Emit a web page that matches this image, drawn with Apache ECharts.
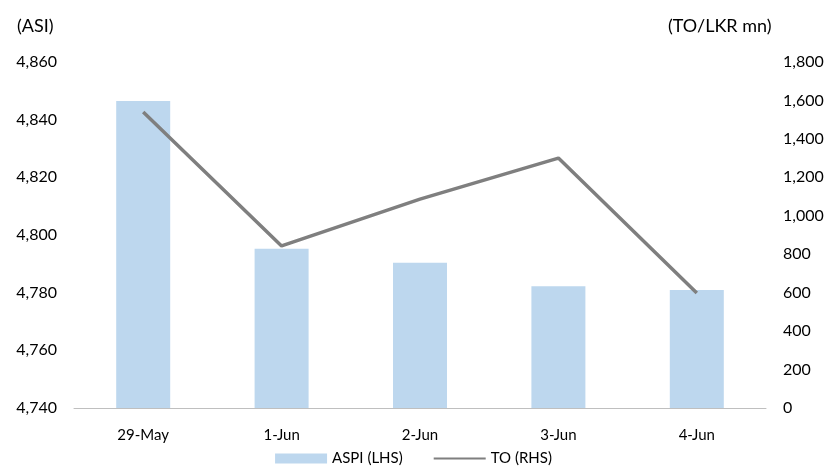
<!DOCTYPE html>
<html>
<head>
<meta charset="utf-8">
<script src="https://cdn.jsdelivr.net/npm/echarts@6/dist/echarts.min.js"></script>
<style>html,body{margin:0;padding:0;background:#fff}#c{width:827px;height:474px}</style>
</head>
<body>
<div id="c"></div>
<script>
const categories = ['29-May', '1-Jun', '2-Jun', '3-Jun', '4-Jun'];
const aspiValues = [4846.5, 4795.2, 4790.4, 4782.2, 4780.9];
const toValues = [1540, 843, 1087, 1300, 598];
const leftTicks = { min: 4740, max: 4860, interval: 20 };
const rightTicks = { min: 0, max: 1800, interval: 200 };

const font = 'Lato, Open Sans, sans-serif';
const chart = echarts.init(document.getElementById('c'));
chart.setOption({
  animation: false,
  textStyle: { fontFamily: font },
  grid: { left: 74, right: 61, top: 62, bottom: 66 },
  graphic: [
    { type: 'text', left: 17, top: 17, style: { text: '(ASI)', font: '18px ' + font, fill: '#000' } },
    { type: 'text', left: 668, top: 17, style: { text: '(TO/LKR mn)', font: '18px ' + font, fill: '#000' } }
  ],
  legend: {
    bottom: 3, left: 'center', itemWidth: 52, itemHeight: 10, itemGap: 30,
    textStyle: { fontSize: 15, color: '#000', fontFamily: font },
    data: [
      { name: 'ASPI (LHS)', icon: 'rect' },
      { name: 'TO (RHS)', itemStyle: { opacity: 0 } }
    ]
  },
  xAxis: {
    type: 'category', data: categories,
    axisLine: { lineStyle: { color: '#BFBFBF', width: 1 } },
    axisTick: { show: false },
    axisLabel: { color: '#000', fontSize: 15, margin: 20, fontFamily: font }
  },
  yAxis: [
    {
      type: 'value', min: leftTicks.min, max: leftTicks.max, interval: leftTicks.interval,
      splitLine: { show: false }, axisLine: { show: false }, axisTick: { show: false },
      axisLabel: { color: '#000', fontSize: 16, margin: 17, fontFamily: font,
        formatter: v => v.toLocaleString('en-US') }
    },
    {
      type: 'value', min: rightTicks.min, max: rightTicks.max, interval: rightTicks.interval,
      splitLine: { show: false }, axisLine: { show: false }, axisTick: { show: false },
      axisLabel: { color: '#000', fontSize: 16, margin: 17, fontFamily: font,
        formatter: v => v.toLocaleString('en-US') }
    }
  ],
  series: [
    {
      name: 'ASPI (LHS)', type: 'bar', data: aspiValues, yAxisIndex: 0,
      barWidth: 54, itemStyle: { color: '#BDD7EE' }
    },
    {
      name: 'TO (RHS)', type: 'line', data: toValues, yAxisIndex: 1,
      symbol: 'none', lineStyle: { color: '#7F7F7F', width: 3.5 }, itemStyle: { color: '#7F7F7F' }
    }
  ]
});
</script>
</body>
</html>
